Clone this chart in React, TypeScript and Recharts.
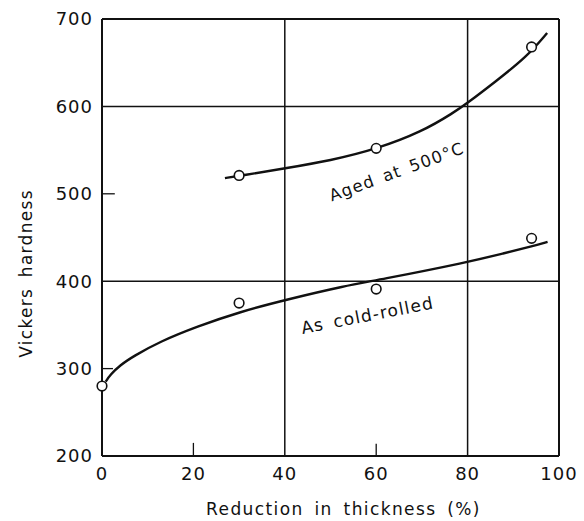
import React from "react";
import {
  ComposedChart,
  Line,
  Scatter,
  XAxis,
  YAxis,
  ReferenceLine,
  ReferenceDot,
} from "recharts";

// X ticks / Y ticks
const xTicks = [0, 20, 40, 60, 80, 100];
const yTicks = [200, 300, 400, 500, 600, 700];

// Measured points (open circles)
const agedPtsX = [30, 60, 94];
const agedPtsY = [521, 552, 668];
const coldPtsX = [0, 30, 60, 94];
const coldPtsY = [280, 375, 391, 449];

// Fitted curves
const agedCurveX = [26.9, 30.6, 40, 50, 60, 70, 77, 80, 86, 93, 97.4];
const agedCurveY = [518, 521, 529, 538, 551, 571, 593, 604, 628, 657, 684];
const coldCurveX = [0.8, 1.8, 4, 6.8, 12.7, 20.7, 30.2, 40.4, 53.5, 60.1, 80.3, 88, 94.2, 97.5];
const coldCurveY = [285, 293, 304, 314, 331, 348, 365, 379, 395, 401, 422, 432, 440, 445];

const zip = (xs: number[], ys: number[]) => xs.map((x, i) => ({ x, y: ys[i] }));
const agedPts = zip(agedPtsX, agedPtsY);
const coldPts = zip(coldPtsX, coldPtsY);
const agedCurve = zip(agedCurveX, agedCurveY);
const coldCurve = zip(coldCurveX, coldCurveY);

const FONT = "'DejaVu Sans', sans-serif";
const INK = "#111";

const OpenCircle = (props: any) => {
  const { cx, cy } = props;
  if (cx == null || cy == null) return null;
  return <circle cx={cx} cy={cy} r={4.8} fill="#fff" stroke={INK} strokeWidth={1.6} />;
};

const rotatedLabel = (text: string, angle: number, size: number) => (props: any) => {
  const vb = props.viewBox || {};
  const cx = (vb.x ?? 0) + (vb.width ?? 0) / 2;
  const cy = (vb.y ?? 0) + (vb.height ?? 0) / 2;
  return (
    <text
      x={cx}
      y={cy}
      textAnchor="middle"
      dominantBaseline="central"
      transform={`rotate(${angle} ${cx} ${cy})`}
      fontFamily={FONT}
      fontSize={size}
      letterSpacing={1.2}
      wordSpacing={3}
      fill={INK}
    >
      {text}
    </text>
  );
};

const XTitle = (props: any) => {
  const vb = props.viewBox || {};
  const x = vb.x + vb.width / 2 + 13;
  const y = vb.y + vb.height - 6;
  return (
    <text x={x} y={y} textAnchor="middle" fontFamily={FONT} fontSize={17} letterSpacing={1.4} wordSpacing={4} fill={INK}>
      Reduction in thickness (%)
    </text>
  );
};

const YTitle = (props: any) => {
  const vb = props.viewBox || {};
  const x = 26;
  const y = vb.y + vb.height / 2 + 36;
  return (
    <text
      x={x}
      y={y}
      textAnchor="middle"
      dominantBaseline="central"
      transform={`rotate(-90 ${x} ${y})`}
      fontFamily={FONT}
      fontSize={17}
      letterSpacing={1.3}
      wordSpacing={4}
      fill={INK}
    >
      Vickers hardness
    </text>
  );
};

export default function App() {
  return (
    <div style={{ position: "absolute", left: 0, top: 0, width: 584, height: 521, background: "#fff" }}>
      <ComposedChart width={584} height={521} margin={{ top: 19, right: 25, left: 0, bottom: 0 }}>
        <XAxis
          dataKey="x"
          type="number"
          domain={[0, 100]}
          ticks={xTicks}
          height={65}
          tickLine={false}
          tickSize={0}
          tickMargin={11}
          axisLine={{ stroke: INK, strokeWidth: 2 }}
          tick={{ fontFamily: FONT, fontSize: 18, fill: INK, letterSpacing: 1 } as any}
          label={{ content: XTitle } as any}
        />
        <YAxis
          dataKey="y"
          type="number"
          domain={[200, 700]}
          ticks={yTicks}
          width={102}
          tickLine={false}
          tickSize={0}
          tickMargin={9}
          axisLine={{ stroke: INK, strokeWidth: 2 }}
          tick={{ fontFamily: FONT, fontSize: 18, fill: INK, letterSpacing: 1 } as any}
          label={{ content: YTitle } as any}
        />
        {/* frame */}
        <ReferenceLine y={700} stroke={INK} strokeWidth={2} />
        <ReferenceLine x={100} stroke={INK} strokeWidth={2} />
        {/* grid */}
        <ReferenceLine x={40} stroke={INK} strokeWidth={1.5} />
        <ReferenceLine x={80} stroke={INK} strokeWidth={1.5} />
        <ReferenceLine y={400} stroke={INK} strokeWidth={1.5} />
        <ReferenceLine y={600} stroke={INK} strokeWidth={1.5} />
        {/* inward minor ticks */}
        <ReferenceLine segment={[{ x: 20, y: 200 }, { x: 20, y: 215 }]} stroke={INK} strokeWidth={1.3} />
        <ReferenceLine segment={[{ x: 60, y: 200 }, { x: 60, y: 214 }]} stroke={INK} strokeWidth={1.3} />
        <ReferenceLine segment={[{ x: 0, y: 300 }, { x: 2.4, y: 300 }]} stroke={INK} strokeWidth={1.3} />
        <ReferenceLine segment={[{ x: 0, y: 500 }, { x: 2.8, y: 500 }]} stroke={INK} strokeWidth={1.3} />

        <Line data={agedCurve} dataKey="y" type="basis" stroke={INK} strokeWidth={2.4} dot={false} isAnimationActive={false} />
        <Line data={coldCurve} dataKey="y" type="basis" stroke={INK} strokeWidth={2.4} dot={false} isAnimationActive={false} />
        <Scatter data={agedPts} dataKey="y" shape={OpenCircle} isAnimationActive={false} />
        <Scatter data={coldPts} dataKey="y" shape={OpenCircle} isAnimationActive={false} />

        <ReferenceDot x={64.5} y={525} r={0} stroke="none" fill="none" label={{ content: rotatedLabel("Aged at 500°C", -20, 16.5) } as any} />
        <ReferenceDot x={58.1} y={361} r={0} stroke="none" fill="none" label={{ content: rotatedLabel("As cold-rolled", -11, 17) } as any} />
      </ComposedChart>
    </div>
  );
}
